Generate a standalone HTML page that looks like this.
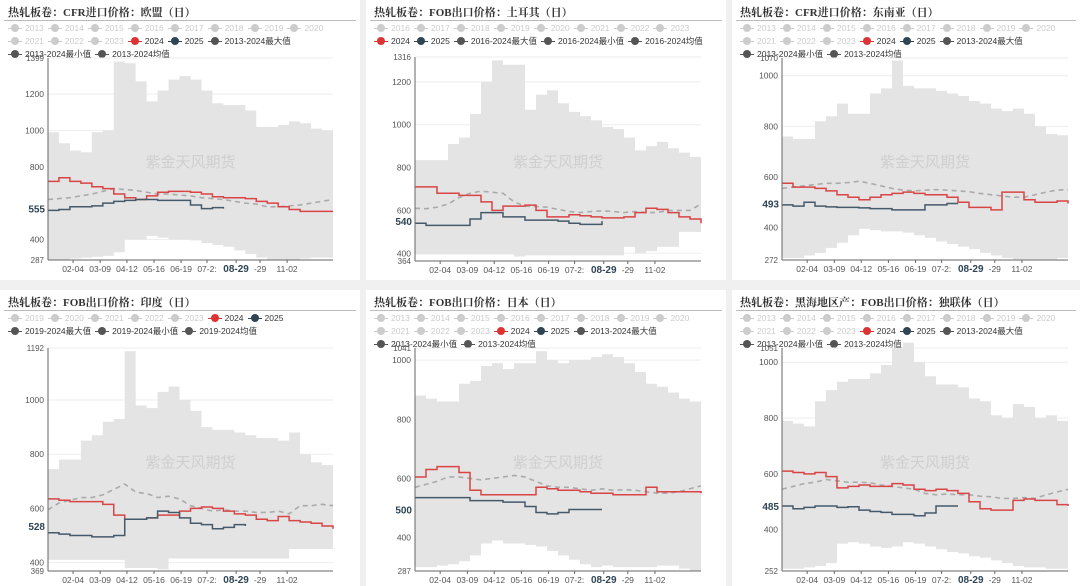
<!DOCTYPE html>
<html><head><meta charset="utf-8">
<style>
body{margin:0;width:1080px;height:586px;background:#f0f0f0;font-family:"Liberation Sans","Noto Sans CJK SC",sans-serif;overflow:hidden;position:relative}
.panel{position:absolute;background:#fff;overflow:hidden}
.title{position:absolute;left:8px;top:4px;font-size:11px;font-weight:bold;color:#333;font-family:"Liberation Serif","Noto Serif CJK SC",serif}
.hr{position:absolute;left:4px;right:4px;top:20px;border-top:1px solid #bbb}
.legend{position:absolute;left:8px;right:0px;top:22px;display:flex;flex-wrap:wrap;column-gap:4px;row-gap:1px;font-size:8.5px;line-height:12px}
.li{display:flex;align-items:center;color:#333;white-space:nowrap}
.li.off{color:#ccc}
.ic{position:relative;width:14px;height:12px;margin-right:3px}
.ic:before{content:"";position:absolute;left:0;right:0;top:6px;border-top:1px solid currentColor}
.ic:after{content:"";position:absolute;left:3px;top:2px;width:8px;height:8px;border-radius:50%;background:currentColor}
svg{position:absolute;left:0;top:0}
</style></head><body>
<script>
// ---------- data ----------
const P1_max=[990,930,890,880,990,1000,1380,1370,1270,1160,1220,1280,1300,1280,1220,1150,1140,1140,1110,1020,1020,1030,1050,1040,1010,1000,980];
const P1_min=[290,290,290,295,300,305,310,330,400,400,420,410,400,400,395,380,370,360,340,320,300,290,290,290,295,300,300];
const P1_avg=[620,625,630,640,650,665,680,675,670,660,650,650,645,640,630,625,620,610,600,595,580,580,585,590,600,610,620];
const P1_2024=[720,740,720,710,690,680,650,630,620,640,660,665,665,660,650,635,630,630,625,610,600,580,565,555,555,555,555];
const P1_2025=[560,565,580,580,585,600,610,615,620,620,615,615,615,590,570,575,570];
const P2_max=[835,835,835,910,940,1050,1200,1300,1280,1280,1070,1140,1160,1100,1060,1040,1020,990,980,940,880,900,920,890,870,850,840];
const P2_min=[395,395,395,395,395,395,395,395,395,395,385,390,390,390,390,390,390,390,390,390,430,400,410,430,430,500,500];
const P2_avg=[610,608,615,630,660,680,690,685,680,640,620,618,615,605,595,590,595,598,595,590,595,590,590,600,600,600,630];
const P2_2024=[710,710,680,680,670,670,640,600,620,620,625,600,570,570,580,575,570,565,565,570,590,610,605,590,570,560,540];
const P2_2025=[540,530,530,530,530,560,590,590,570,570,555,555,555,550,540,535,535,550];
const P3_max=[760,750,750,820,840,890,850,850,930,950,1060,960,950,950,940,930,920,900,890,870,860,870,850,800,770,765,760];
const P3_min=[280,280,280,290,300,320,340,370,395,390,385,385,380,370,360,345,335,325,315,300,290,280,275,275,275,275,280];
const P3_avg=[555,560,565,570,575,575,578,583,575,565,555,548,545,548,550,548,545,542,535,530,525,520,520,530,540,548,550];
const P3_2024=[575,560,560,555,545,530,520,510,520,530,535,540,535,530,530,520,500,480,480,470,540,540,510,500,500,505,495];
const P3_2025=[490,485,500,485,482,480,480,478,475,475,470,470,470,490,490,495,495];
const P4_max=[745,780,780,850,870,920,930,1180,980,970,1030,1050,1000,960,900,890,890,880,870,860,860,850,880,800,770,760,745];
const P4_min=[410,410,410,410,410,410,410,410,380,380,380,375,415,415,415,415,415,415,415,415,415,415,415,450,450,450,450];
const P4_avg=[595,620,630,640,640,650,670,690,660,655,640,645,635,610,600,590,595,590,590,585,585,590,580,610,610,615,610];
const P4_2024=[635,630,625,625,625,615,575,560,560,565,575,575,590,600,605,600,590,580,575,560,555,570,555,550,545,535,525];
const P4_2025=[510,505,500,500,495,495,500,560,560,565,590,585,565,545,540,525,530,540,535];
const P5_max=[880,870,860,860,920,930,980,990,970,990,990,1030,1000,990,1000,1000,1010,1020,1010,990,960,920,910,890,870,860,880];
const P5_min=[287,300,300,305,310,320,340,380,390,380,380,375,370,355,340,325,310,300,305,300,300,300,300,305,305,295,287];
const P5_avg=[570,580,590,605,605,600,595,600,605,610,605,590,575,570,570,565,560,565,560,562,560,555,550,550,555,565,575];
const P5_2024=[605,630,640,640,620,560,545,545,545,545,545,570,565,560,560,555,550,550,545,545,545,570,555,555,555,555,550];
const P5_2025=[535,535,535,535,535,525,525,525,520,520,505,485,480,485,495,495,495,495];
const P6_max=[790,780,770,860,900,930,940,940,960,990,1050,1070,1000,950,920,920,910,870,860,810,800,850,840,800,810,790,790];
const P6_min=[260,260,260,265,270,280,350,355,350,340,335,340,355,350,340,330,320,315,305,300,290,280,270,265,265,260,260];
const P6_avg=[545,555,565,570,580,575,570,570,568,560,555,550,545,530,525,528,525,525,520,518,512,512,515,512,525,535,545];
const P6_2024=[610,605,600,605,590,550,555,560,555,555,565,560,545,540,545,540,530,500,475,470,470,505,510,505,505,490,485];
const P6_2025=[485,475,480,485,485,480,482,470,465,462,455,455,450,460,485,485,485];
const xTickLabels=["02-04","03-09","04-12","05-16","06-19","07-2:","08-29","-29","11-02"];
const xTickFrac=[.088,.183,.277,.372,.467,.558,.66,.744,.839];

const YRS13=["2013","2014","2015","2016","2017","2018","2019","2020","2021","2022","2023"];
const panels=[
 {id:"eu-cfr",title:"热轧板卷：CFR进口价格：欧盟（日）",L:0,T:0,W:360,H:280,px0:48,px1:333,py0:58,py1:260,ymin:287,ymax:1399,ticks:[400,1000,1200,800],top:"1399",bot:"287",last:"555",off:YRS13,rng:"2013-2024",d:[P1_max,P1_min,P1_avg,P1_2024,P1_2025]},
 {id:"tr-fob",title:"热轧板卷：FOB出口价格：土耳其（日）",L:366,T:0,W:360,H:280,px0:49,px1:335,py0:57,py1:261,ymin:364,ymax:1316,ticks:[400,600,800,1000,1200],top:"1316",bot:"364",last:"540",off:["2016","2017","2018","2019","2020","2021","2022","2023"],rng:"2016-2024",d:[P2_max,P2_min,P2_avg,P2_2024,P2_2025]},
 {id:"sea-cfr",title:"热轧板卷：CFR进口价格：东南亚（日）",L:732,T:0,W:348,H:280,px0:50,px1:336,py0:58,py1:260,ymin:272,ymax:1070,ticks:[400,600,800,1000],top:"1070",bot:"272",last:"493",off:YRS13,rng:"2013-2024",d:[P3_max,P3_min,P3_avg,P3_2024,P3_2025]},
 {id:"in-fob",title:"热轧板卷：FOB出口价格：印度（日）",L:0,T:290,W:360,H:296,px0:48,px1:333,py0:58,py1:281,ymin:369,ymax:1192,ticks:[400,600,800,1000],top:"1192",bot:"369",last:"528",off:["2019","2020","2021","2022","2023"],rng:"2019-2024",d:[P4_max,P4_min,P4_avg,P4_2024,P4_2025]},
 {id:"jp-fob",title:"热轧板卷：FOB出口价格：日本（日）",L:366,T:290,W:360,H:296,px0:49,px1:335,py0:58,py1:281,ymin:287,ymax:1041,ticks:[400,600,800,1000],top:"1041",bot:"287",last:"500",off:YRS13,rng:"2013-2024",d:[P5_max,P5_min,P5_avg,P5_2024,P5_2025]},
 {id:"cis-fob",title:"热轧板卷：黑海地区产：FOB出口价格：独联体（日）",L:732,T:290,W:348,H:296,px0:50,px1:336,py0:58,py1:281,ymin:252,ymax:1051,ticks:[400,600,800,1000],top:"1051",bot:"252",last:"485",off:YRS13,rng:"2013-2024",d:[P6_max,P6_min,P6_avg,P6_2024,P6_2025]}
];
const NS="http://www.w3.org/2000/svg";
function mk(t,a,p){const e=document.createElementNS(NS,t);for(const k in a)e.setAttribute(k,a[k]);p.appendChild(e);return e;}
function stepPath(arr,X,Y){let s="";arr.forEach((v,i)=>{s+=(i?"H"+X(i)+"V":"M"+X(i)+",")+Y(v);});return s;}
panels.forEach(p=>{
 const div=document.createElement('div');div.className='panel';
 
 
 div.style.cssText=`left:${p.L}px;top:${p.T}px;width:${p.W}px;height:${p.H}px`;
 document.body.appendChild(div);
 const t=document.createElement('div');t.className='title';t.textContent=p.title;
 
 
 div.appendChild(t);
 const hr=document.createElement('div');hr.className='hr';div.appendChild(hr);
 const lg=document.createElement('div');lg.className='legend';
 
 
 div.appendChild(lg);
 const items=p.off.map(y=>[y,'#ccc',true]).concat([["2024","#d33",false],["2025","#2f4554",false],[p.rng+"最大值","#555",false],[p.rng+"最小值","#555",false],[p.rng+"均值","#555",false]]);
 items.forEach(it=>{const li=document.createElement('div');li.className='li'+(it[2]?' off':'');
  
  
  li.innerHTML=`<span class="ic" style="color:${it[1]}"></span><span style="color:${it[2]?'#ccc':'#333'}">${it[0]}</span>`;lg.appendChild(li);});
 const svg=mk('svg',{width:p.W,height:p.H},div);
 
 
 const X=i=>p.px0+i/26*(p.px1-p.px0);
 const Y=v=>p.py1-(v-p.ymin)/(p.ymax-p.ymin)*(p.py1-p.py0);
 p.ticks.concat([p.ymax]).forEach(v=>{mk('line',{x1:p.px0,x2:p.px1,y1:Y(v),y2:Y(v),stroke:'#eee'},svg);});
 const [mx,mn,av,s24,s25]=p.d;
 let band="";mx.forEach((v,i)=>{band+=(i?"H"+X(i)+"V":"M"+X(i)+",")+Y(v);});
 band+="H"+p.px1+"V"+Y(mn[26]);
 for(let i=26;i>=0;i--){band+="H"+X(i)+"V"+Y(mn[i]);}
 band+="Z";
 const b=mk('path',{d:band,fill:'#e4e4e4'},svg);
 
 
 const wm=mk('text',{x:(p.px0+p.px1)/2,y:(p.py0+p.py1)/2+8,'text-anchor':'middle','font-size':15,fill:'#cfcfcf'},svg);wm.textContent='紫金天风期货';
 
 
 let ap="";av.forEach((v,i)=>{ap+=(i?"L":"M")+X(i)+","+Y(v);});
 const a=mk('path',{d:ap,fill:'none',stroke:'#aaa','stroke-width':1.6,'stroke-dasharray':'5,4'},svg);
 
 
 const r=mk('path',{d:stepPath(s24,X,Y)+"H"+p.px1,fill:'none',stroke:'#d94545','stroke-width':1.5},svg);
 
 
 const n=mk('path',{d:stepPath(s25,X,Y),fill:'none',stroke:'#44596a','stroke-width':1.5},svg);
 
 
 mk('line',{x1:p.px0,x2:p.px0,y1:p.py0,y2:p.py1,stroke:'#666'},svg);
 mk('line',{x1:p.px0,x2:p.px1,y1:p.py1,y2:p.py1,stroke:'#666'},svg);
 p.ticks.forEach(v=>{const tx=mk('text',{x:p.px0-4,y:Y(v)+3,'text-anchor':'end','font-size':8.5,fill:'#555'},svg);tx.textContent=v;
  
  });
 [[p.ymax,p.top],[p.ymin,p.bot]].forEach(q=>{const tx=mk('text',{x:p.px0-4,y:Y(q[0])+3,'text-anchor':'end','font-size':8,fill:'#555'},svg);tx.textContent=q[1];});
 const lv=Y(s25[s25.length-1]);
 mk('rect',{x:p.px0-24,y:lv-6,width:22,height:12,fill:'#fff'},svg);
 const lt=mk('text',{x:p.px0-3,y:lv+4,'text-anchor':'end','font-size':10,'font-weight':'bold',fill:'#2f4554'},svg);lt.textContent=p.last;
 
 
 xTickLabels.forEach((l,i)=>{const x=p.px0+xTickFrac[i]*(p.px1-p.px0);const hl=l==="08-29";
  mk('line',{x1:x,x2:x,y1:p.py1,y2:p.py1+3,stroke:'#666'},svg);
  const tx=mk('text',{x:x,y:p.py1+12,'text-anchor':'middle','font-size':hl?10:8.5,'font-weight':hl?'bold':'normal',fill:hl?'#2f4554':'#555'},svg);tx.textContent=l;
  
  });
});
</script>
</body></html>
